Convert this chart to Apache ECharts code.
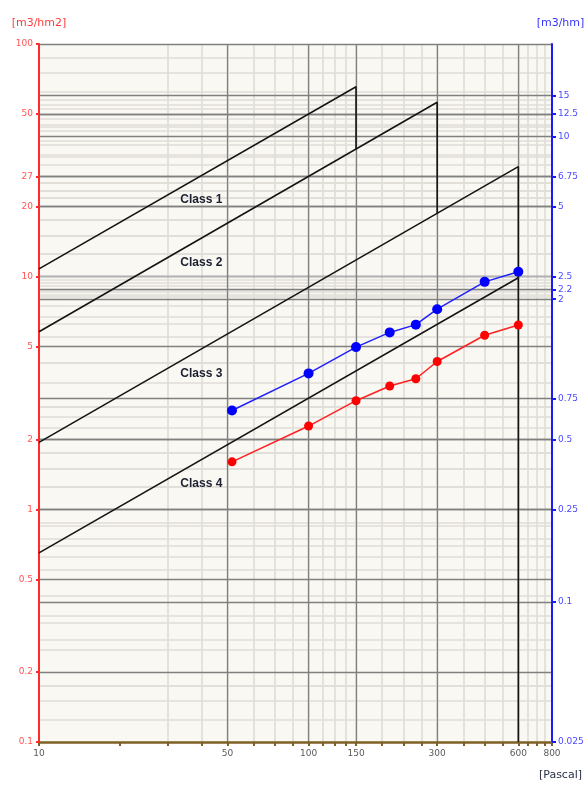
<!DOCTYPE html>
<html><head><meta charset="utf-8">
<script src="https://cdn.jsdelivr.net/npm/echarts@6/dist/echarts.min.js"></script>
<style>html,body{margin:0;padding:0;background:#fff}#c{width:587px;height:786px}</style>
</head><body><div id="c"></div>
<script>
// ---- data (m3/hm2 on the left axis, Pascal on the x axis) ----
const pressures   = [52, 100, 150, 200, 250, 300, 450, 600];
const blueValues  = [2.66, 3.84, 4.98, 5.76, 6.22, 7.25, 9.5, 10.5];
const redValues   = [1.6, 2.28, 2.93, 3.39, 3.64, 4.32, 5.6, 6.2];
const class1Line  = [[10, 10.8], [150, 65.5], [150, 35.4]];
const class2Line  = [[10, 5.8], [300, 56.2], [300, 18.7]];
const class3Line  = [[10, 1.94], [600, 29.7], [600, 9.9]];
const class4Line  = [[10, 0.65], [600, 9.9], [600, 0.1]];
const classNames  = ['Class 1', 'Class 2', 'Class 3', 'Class 4'];
const classLabelAt = [[40, 21.4], [40, 11.5], [40, 3.82], [40, 1.29]];
// ---- tick labels ----
const xTicks     = [10, 50, 100, 150, 300, 600, 800];
const leftTicks  = [0.1, 0.2, 0.5, 1, 2, 5, 10, 20, 27, 50, 100];
const rightTicks = [0.025, 0.1, 0.25, 0.5, 0.75, 2, 2.2, 2.5, 5, 6.75, 10, 12.5, 15];
const rightRange = [0.025, 25];

const L = Math.log10;
function subdivide(t) {
  const out = [];
  for (let i = 0; i < t.length - 1; i++) {
    const a = t[i], b = t[i + 1];
    for (let k = 1; k < 4; k++) out.push(a + k * (b - a) / 4);
  }
  return out;
}
function fmt(ticks) {
  return function (v) {
    for (const t of ticks) if (Math.abs(L(t) - v) < 1e-6) return String(t);
    return '';
  };
}
const xMinor = subdivide(xTicks);
const leftMinor = subdivide(leftTicks);
const rightMinor = subdivide(rightTicks);

const FONT = 'DejaVu Sans';
const LIGHT = '#e0ded9';
const DARK = '#808080';
const xMin = L(xTicks[0]), xMax = L(xTicks[xTicks.length - 1]);
const yMin = L(leftTicks[0]), yMax = L(leftTicks[leftTicks.length - 1]);

function toLog(arr) { return arr.map(p => [L(p[0]), L(p[1])]); }

const chart = echarts.init(document.getElementById('c'), null, {renderer: 'canvas'});
const rightDarkColors = rightTicks.map(t => t === 2.2 ? '#b4b4b4' : DARK);

chart.setOption({
  animation: false,
  backgroundColor: '#ffffff',
  grid: {left: 39, right: 35, top: 44, bottom: 44, show: true, backgroundColor: '#faf8f2',
         borderWidth: 0, containLabel: false, outerBoundsMode: 'none'},
  xAxis: [
    { // minor
      type: 'value', min: xMin, max: xMax, position: 'bottom', z: 0,
      axisLine: {show: false, onZero: false},
      axisTick: {show: true, customValues: xMinor.concat(xTicks).map(L), length: 4,
                 lineStyle: {color: '#7d6024', width: 2}},
      axisLabel: {show: false},
      splitLine: {show: true, showMinLine: false, showMaxLine: false, lineStyle: {color: LIGHT, width: 1.7}}
    },
    { // major
      type: 'value', min: xMin, max: xMax, position: 'bottom', z: 1,
      name: '[Pascal]', nameLocation: 'end', nameGap: 30,
      nameTextStyle: {fontFamily: FONT, fontSize: 11, color: '#2a3148', align: 'right',
                      verticalAlign: 'top', padding: [28, 0, 0, 0]},
      axisLine: {show: true, onZero: false, lineStyle: {color: '#7d6024', width: 2.5}},
      axisTick: {show: false, customValues: xTicks.map(L)},
      axisLabel: {show: true, customValues: xTicks.map(L), formatter: fmt(xTicks),
                  fontFamily: FONT, fontSize: 9, color: '#5a5a5a', margin: 7},
      splitLine: {show: true, showMinLine: false, showMaxLine: false, lineStyle: {color: DARK, width: 1.3}}
    }
  ],
  yAxis: [
    { // left minor
      type: 'value', min: yMin, max: yMax, position: 'left', z: 0,
      axisLine: {show: false, onZero: false},
      axisTick: {show: false, customValues: leftMinor.map(L)},
      axisLabel: {show: false},
      splitLine: {show: true, lineStyle: {color: LIGHT, width: 1.7}}
    },
    { // left major
      type: 'value', min: yMin, max: yMax, position: 'left', z: 1,
      name: '[m3/hm2]', nameLocation: 'end', nameGap: 15,
      nameTextStyle: {fontFamily: FONT, fontSize: 11, color: '#ff3a3a'},
      axisLine: {show: true, onZero: false, lineStyle: {color: '#ff2a2a', width: 2}},
      axisTick: {show: true, customValues: leftTicks.map(L), length: 3, lineStyle: {color: '#ff2a2a', width: 2}},
      axisLabel: {show: true, customValues: leftTicks.map(L), formatter: fmt(leftTicks),
                  fontFamily: FONT, fontSize: 9, color: '#ff5555', margin: 6},
      splitLine: {show: true, showMinLine: false, lineStyle: {color: DARK, width: 1.3}}
    },
    { // right major
      type: 'value', min: L(rightRange[0]), max: L(rightRange[1]), position: 'right', z: 1,
      name: '[m3/hm]', nameLocation: 'end', nameGap: 15,
      nameTextStyle: {fontFamily: FONT, fontSize: 11, color: '#3535ff', padding: [0, 0, 0, 17]},
      axisLine: {show: true, onZero: false, lineStyle: {color: '#1a1aff', width: 2}},
      axisTick: {show: true, customValues: rightTicks.map(L), length: 4, lineStyle: {color: '#1a1aff', width: 2}},
      axisLabel: {show: true, customValues: rightTicks.map(L), formatter: fmt(rightTicks),
                  fontFamily: FONT, fontSize: 9, color: '#4a4aff', margin: 6},
      splitLine: {show: true, showMinLine: false, lineStyle: {color: rightDarkColors, width: 1.3}}
    },
    { // right minor
      type: 'value', min: L(rightRange[0]), max: L(rightRange[1]), position: 'right', z: 0,
      axisLine: {show: false, onZero: false},
      axisTick: {show: false, customValues: rightMinor.map(L)},
      axisLabel: {show: false},
      splitLine: {show: true, lineStyle: {color: LIGHT, width: 1.7}}
    }
  ],
  series: [
    ...[class1Line, class2Line, class3Line, class4Line].map(d => ({
      type: 'line', xAxisIndex: 1, yAxisIndex: 1, data: toLog(d), symbol: 'none', z: 3,
      lineStyle: {color: '#151515', width: 1.6}, silent: true
    })),
    {
      type: 'line', name: 'blue', xAxisIndex: 1, yAxisIndex: 1, z: 4,
      data: pressures.map((p, i) => [L(p), L(blueValues[i])]),
      symbol: 'circle', symbolSize: 10, itemStyle: {color: '#0000ff'},
      lineStyle: {color: '#2020ff', width: 1.5}
    },
    {
      type: 'line', name: 'red', xAxisIndex: 1, yAxisIndex: 1, z: 4,
      data: pressures.map((p, i) => [L(p), L(redValues[i])]),
      symbol: 'circle', symbolSize: 9, itemStyle: {color: '#ff0000'},
      lineStyle: {color: '#ff2020', width: 1.5}
    },
    {
      type: 'scatter', xAxisIndex: 1, yAxisIndex: 1, z: 5, symbolSize: 0, silent: true,
      itemStyle: {color: '#1b2030', opacity: 1},
      data: classLabelAt.map((p, i) => ({value: [L(p[0]), L(p[1])], name: classNames[i]})),
      label: {show: true, position: 'inside', formatter: '{b}', fontFamily: 'Liberation Sans',
              fontWeight: 'bold', fontSize: 12, color: '#1b2030',
              textBorderWidth: 0, textBorderColor: 'transparent', opacity: 1}
    }
  ]
});
</script></body></html>
